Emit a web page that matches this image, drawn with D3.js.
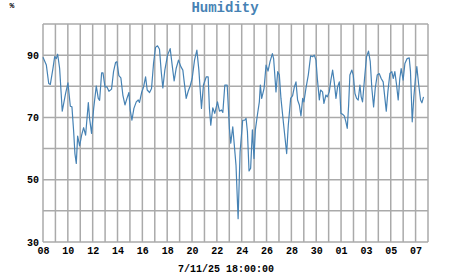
<!DOCTYPE html>
<html>
<head>
<meta charset="utf-8">
<script src="https://cdn.jsdelivr.net/npm/d3@7"></script>
<style>
  body { margin: 0; background: #fff; }
  svg { display: block; }
  text { font-family: "Liberation Mono", "Courier New", monospace; font-weight: bold; }
</style>
</head>
<body>
<script>
// humidity readings, time given as days after 8 Oct 2025 00:00
var startDate = new Date(2025, 9, 8);
var endDate = new Date(2025, 10, 8);

var dayOffset = [
  0.00, 0.27, 0.46, 0.59, 0.80, 0.94, 1.07, 1.18, 1.34, 1.55, 1.82, 2.01, 2.20, 2.33, 2.47, 2.57,
  2.68, 2.79, 2.95, 3.11, 3.27, 3.43, 3.65, 3.75, 3.91, 4.08, 4.29, 4.45, 4.56, 4.72, 4.83, 4.99,
  5.15, 5.31, 5.52, 5.68, 5.84, 5.95, 6.11, 6.27, 6.43, 6.60, 6.76, 6.92, 7.02, 7.16, 7.32, 7.51,
  7.67, 7.77, 7.94, 8.10, 8.26, 8.39, 8.58, 8.74, 8.90, 9.06, 9.22, 9.38, 9.52, 9.65, 9.81, 10.03,
  10.24, 10.40, 10.56, 10.72, 10.91, 11.10, 11.26, 11.37, 11.53, 11.69, 11.85, 12.01, 12.20, 12.39,
  12.55, 12.76, 12.92, 13.14, 13.30, 13.40, 13.51, 13.67, 13.83, 14.05, 14.21, 14.37, 14.48, 14.64,
  14.83, 15.01, 15.12, 15.28, 15.54, 15.71, 15.87, 16.08, 16.24, 16.35, 16.46, 16.59, 16.72, 16.86,
  16.99, 17.10, 17.26, 17.42, 17.50, 17.61, 17.80, 17.96, 18.12, 18.28, 18.47, 18.57, 18.76, 18.90,
  19.03, 19.16, 19.35, 19.49, 19.62, 19.75, 19.94, 20.10, 20.24, 20.37, 20.50, 20.64, 20.77, 20.91,
  21.01, 21.17, 21.36, 21.55, 21.71, 21.84, 21.98, 22.09, 22.25, 22.35, 22.51, 22.62, 22.78, 22.89,
  23.05, 23.18, 23.32, 23.45, 23.59, 23.72, 23.86, 23.99, 24.12, 24.26, 24.39, 24.50, 24.61, 24.71,
  24.87, 24.98, 25.12, 25.25, 25.38, 25.52, 25.62, 25.73, 25.89, 26.05, 26.21, 26.35, 26.48, 26.62,
  26.75, 26.91, 27.07, 27.23, 27.39, 27.53, 27.64, 27.77, 27.93, 28.09, 28.20, 28.33, 28.47, 28.60,
  28.73, 28.84, 29.00, 29.14, 29.32, 29.49, 29.59, 29.73, 29.86, 29.99, 30.10, 30.24, 30.40, 30.51,
  30.64
];

var humidity = [
  89.3, 86.8, 80.9, 80.6, 85.7, 89.5, 88.9, 90.3, 85.7, 72.0, 77.7, 81.1, 73.6, 73.4, 65.4, 58.4,
  55.2, 64.0, 60.9, 64.3, 66.7, 64.3, 74.8, 69.7, 64.9, 72.9, 80.1, 76.1, 75.5, 84.3, 84.3, 79.8,
  79.8, 78.4, 79.1, 84.7, 87.6, 87.9, 83.4, 82.7, 77.2, 74.0, 76.1, 78.0, 72.4, 69.1, 72.9, 75.0,
  75.6, 74.8, 78.0, 79.8, 83.0, 78.8, 78.0, 79.3, 87.3, 92.5, 93.0, 91.9, 84.7, 79.5, 85.2, 90.0,
  92.1, 86.8, 81.7, 85.7, 88.4, 86.3, 85.2, 81.4, 76.1, 78.4, 80.1, 82.5, 88.4, 91.6,
  85.2, 72.9, 80.4, 83.0, 83.0, 72.9, 67.5, 73.1, 71.3, 75.0, 72.0, 72.4, 71.6, 80.4,
  80.4, 66.5, 61.7, 67.0, 54.7, 37.5, 59.0, 69.1, 69.1, 69.7, 65.4, 52.8, 53.7, 66.0,
  56.8, 66.0, 70.7, 75.0, 80.4, 76.1, 79.3, 86.8, 84.9, 87.9, 90.5, 88.9, 78.2, 84.7,
  83.6, 76.1, 68.6, 63.3, 58.4, 67.5, 76.1, 77.0, 79.8, 81.4, 75.6, 74.0, 70.5, 76.1,
  75.0, 79.3, 83.6, 89.8, 89.5, 90.0, 88.4, 82.5, 75.6, 78.8, 78.2, 74.5, 77.2, 76.6,
  78.2, 82.0, 85.2, 81.4, 76.1, 79.8, 81.4, 71.3, 71.0, 70.5, 68.6, 66.5, 74.0, 83.6,
  85.2, 83.6, 77.7, 76.1, 75.6, 80.4, 76.6, 75.0, 82.5, 89.5, 91.3, 87.9, 79.3, 73.4,
  79.3, 83.6, 84.1, 82.5, 81.4, 76.1, 72.0, 78.2, 84.1, 84.7, 82.5, 84.7, 80.4, 75.6,
  82.5, 85.7, 82.0, 87.3, 88.9, 89.1, 84.7, 68.6, 76.6, 82.5, 86.3, 80.9, 75.6, 74.7,
  76.6
];

var yTicks = [30, 50, 70, 90];
var yGrid = [30, 40, 50, 60, 70, 80, 90, 100];
var title = "Humidity";
var unitLabel = "%";
var timeLabel = "7/11/25 18:00:00";

var width = 451, height = 275;
var margin = {top: 24, right: 23, bottom: 33, left: 43};

var data = dayOffset.map(function(d, i) {
  return {date: new Date(startDate.getTime() + d * 864e5), value: humidity[i]};
});

var x = d3.scaleTime()
  .domain([startDate, endDate])
  .range([margin.left, width - margin.right]);

var y = d3.scaleLinear()
  .domain([30, 100])
  .range([height - margin.bottom, margin.top]);

var svg = d3.select("body").append("svg")
  .attr("width", width)
  .attr("height", height)
  .attr("viewBox", [0, 0, width, height]);

// grid
var days = d3.timeDay.range(startDate, d3.timeDay.offset(endDate, 1));
svg.append("g")
  .attr("stroke", "#aaaaaa")
  .attr("stroke-width", 1.5)
  .selectAll("line")
  .data(days).enter()
  .append("line")
    .attr("x1", d => x(d)).attr("x2", d => x(d))
    .attr("y1", y(30)).attr("y2", y(100));

svg.append("g")
  .attr("stroke", "#aaaaaa")
  .attr("stroke-width", 1.5)
  .selectAll("line")
  .data(yGrid).enter()
  .append("line")
    .attr("x1", x(startDate)).attr("x2", x(endDate))
    .attr("y1", d => y(d)).attr("y2", d => y(d));

// axes
var xAxis = g => g
  .attr("transform", `translate(0,${height - margin.bottom})`)
  .call(d3.axisBottom(x)
    .tickValues(d3.timeDay.range(startDate, endDate, 2))
    .tickFormat(d3.timeFormat("%d"))
    .tickSize(0)
    .tickPadding(5))
  .call(g => g.select(".domain").remove());

var yAxis = g => g
  .attr("transform", `translate(${margin.left},0)`)
  .call(d3.axisLeft(y).tickValues(yTicks).tickSize(0).tickPadding(4))
  .call(g => g.select(".domain").remove());

svg.append("g").call(xAxis);
svg.append("g").call(yAxis);

svg.selectAll(".tick text")
  .attr("font-family", "Liberation Mono, Courier New, monospace")
  .attr("font-weight", "bold")
  .attr("font-size", 10)
  .attr("fill", "#000");

// line
svg.append("path")
  .datum(data)
  .attr("fill", "none")
  .attr("stroke", "steelblue")
  .attr("stroke-width", 1.2)
  .attr("stroke-linejoin", "round")
  .attr("d", d3.line().x(d => x(d.date)).y(d => y(d.value)));

// labels
svg.append("text")
  .attr("x", 225).attr("y", 12)
  .attr("text-anchor", "middle")
  .attr("font-size", 14)
  .attr("fill", "#4682b4")
  .text(title);

svg.append("text")
  .attr("x", 12).attr("y", 8)
  .attr("text-anchor", "middle")
  .attr("font-size", 8)
  .attr("font-weight", "normal")
  .attr("fill", "#000")
  .text(unitLabel);

svg.append("text")
  .attr("x", 226).attr("y", 272)
  .attr("text-anchor", "middle")
  .attr("font-size", 10)
  .attr("fill", "#000")
  .text(timeLabel);
</script>
</body>
</html>
